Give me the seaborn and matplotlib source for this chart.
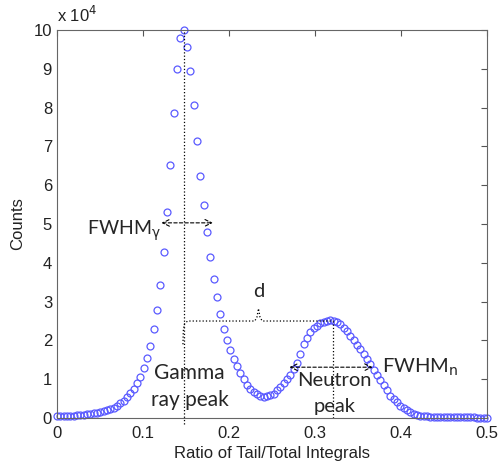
import numpy as np
import pandas as pd
import matplotlib
matplotlib.use("Agg")
import matplotlib.pyplot as plt
import seaborn as sns

# ---- data (counts in units of 1e4), 130 evenly spaced ratio bins from 0 to 0.5 ----
counts_e4 = [
    0.04, 0.04, 0.05, 0.05, 0.06, 0.06, 0.07, 0.08, 0.09, 0.10,
    0.11, 0.12, 0.13, 0.15, 0.17, 0.20, 0.23, 0.27, 0.32, 0.39,
    0.45, 0.53, 0.64, 0.76, 0.90, 1.07, 1.29, 1.55, 1.85, 2.30,
    2.78, 3.43, 4.27, 5.32, 6.53, 7.85, 8.99, 9.79, 10.0, 9.57,
    8.95, 8.07, 7.15, 6.24, 5.50, 4.79, 4.15, 3.59, 3.13, 2.68,
    2.30, 2.01, 1.75, 1.52, 1.33, 1.16, 1.00, 0.85, 0.74, 0.66,
    0.61, 0.57, 0.55, 0.56, 0.59, 0.63, 0.71, 0.79, 0.89, 1.00,
    1.11, 1.26, 1.43, 1.66, 1.90, 2.07, 2.21, 2.31, 2.38, 2.44,
    2.48, 2.50, 2.52, 2.51, 2.48, 2.42, 2.33, 2.23, 2.12, 2.01,
    1.89, 1.77, 1.64, 1.52, 1.39, 1.25, 1.11, 0.97, 0.84, 0.71,
    0.58, 0.49, 0.40, 0.32, 0.26, 0.20, 0.15, 0.11, 0.08, 0.06,
    0.05, 0.04, 0.035, 0.03, 0.03, 0.03, 0.025, 0.025, 0.02, 0.02,
    0.02, 0.02, 0.02, 0.015, 0.015, 0.015, 0.01, 0.01, 0.01, 0.01,
]
ratio = np.linspace(0.0, 0.5, len(counts_e4))

x_ticks = [0, 0.1, 0.2, 0.3, 0.4, 0.5]
x_tick_labels = ["0", "0.1", "0.2", "0.3", "0.4", "0.5"]
y_ticks = list(range(0, 11))
y_tick_labels = [str(v) for v in y_ticks]

x_label = "Ratio of Tail/Total Integrals"
y_label = "Counts"

# annotation anchors (data coordinates)
gamma_peak_x = ratio[int(np.argmax(counts_e4))]
neutron_peak_x = 0.3215
brace_y = 2.5
fwhm_g = (0.1215, 0.1813, 5.03)
fwhm_n = (0.2703, 0.3670, 1.31)

df = pd.DataFrame({"ratio": ratio, "counts": counts_e4})

sns.set_style("white")
plt.rcParams["font.family"] = ["Liberation Sans", "DejaVu Sans"]
plt.rcParams["mathtext.fontset"] = "dejavusans"

fig = plt.figure(figsize=(4.99, 4.69), dpi=100)
ax = fig.add_axes([0.1142, 0.1087, 0.8617, 0.8273])

sns.lineplot(data=df, x="ratio", y="counts", ax=ax, linestyle="none",
             marker="o", markersize=5.0, markerfacecolor="none",
             markeredgecolor="#5a5aff", markeredgewidth=0.9, clip_on=False,
             estimator=None)

ax.set_xlim(0, 0.5)
ax.set_ylim(0, 10)
ax.set_xticks(x_ticks)
ax.set_xticklabels(x_tick_labels)
ax.set_yticks(y_ticks)
ax.set_yticklabels(y_tick_labels)
ax.tick_params(axis="both", direction="in", length=4, width=0.8, color="#555555",
               labelsize=12, labelcolor="#222222", top=True, right=True)
ax.tick_params(axis="x", pad=6)
ax.tick_params(axis="y", pad=3.5)
for s in ax.spines.values():
    s.set_visible(True)
    s.set_color("#666666")
    s.set_linewidth(0.8)
ax.set_xlabel(x_label, fontsize=12, color="#222222", labelpad=3)
ax.set_ylabel(y_label, fontsize=12, color="#222222", labelpad=6)

# x 10^4 multiplier
ax.text(0.0, 1.012, r"x 10$^{4}$", transform=ax.transAxes, fontsize=12,
        color="#222222", ha="left", va="bottom")

dot = dict(color="black", linestyle=":", linewidth=0.9)
# vertical line at gamma peak
ax.plot([gamma_peak_x, gamma_peak_x], [-0.15, 10.0], clip_on=False, **dot)
# vertical line at neutron peak
ax.plot([neutron_peak_x, neutron_peak_x], [0.0, brace_y], **dot)
# brace "d"
brace_x = [gamma_peak_x - 0.0008, gamma_peak_x - 0.0004, gamma_peak_x + 0.0008,
           gamma_peak_x + 0.0045, 0.2300, 0.2325, 0.2343, 0.2361, 0.2386,
           neutron_peak_x]
brace_yv = [1.9, 2.25, 2.42, brace_y, brace_y, 2.6, 2.82, 2.6, brace_y, brace_y]
ax.plot(brace_x, brace_yv, **dot)

afont = ["Lato", "DejaVu Sans"]
fs = 14.5
ax.text(0.2343, 3.13, "d", fontsize=fs, family=afont, ha="center", va="baseline")

# FWHM arrows
for (xa, xb, yy) in (fwhm_g, fwhm_n):
    ax.annotate("", xy=(xb, yy), xytext=(xa, yy),
                arrowprops=dict(arrowstyle="<->", linestyle=(0, (3, 2)),
                                color="black", lw=0.8, shrinkA=0, shrinkB=0,
                                mutation_scale=12))
ax.text(0.1205, 4.73, r"FWHM$_{\mathrm{\gamma}}$", fontsize=14, family=afont,
        ha="right", va="baseline")
ax.text(0.378, 1.16, r"FWHM$_{\mathrm{n}}$", fontsize=fs, family=afont,
        ha="left", va="baseline")

# peak labels
ax.text(0.1535, 1.0, "Gamma", fontsize=15, family=afont, ha="center", va="baseline")
ax.text(0.155, 0.32, "ray peak", fontsize=15, family=afont, ha="center", va="baseline")
ax.text(0.3225, 0.83, "Neutron", fontsize=fs, family=afont, ha="center", va="baseline")
ax.text(0.3225, 0.15, "peak", fontsize=fs, family=afont, ha="center", va="baseline")

fig.savefig("out.png", dpi=100)
